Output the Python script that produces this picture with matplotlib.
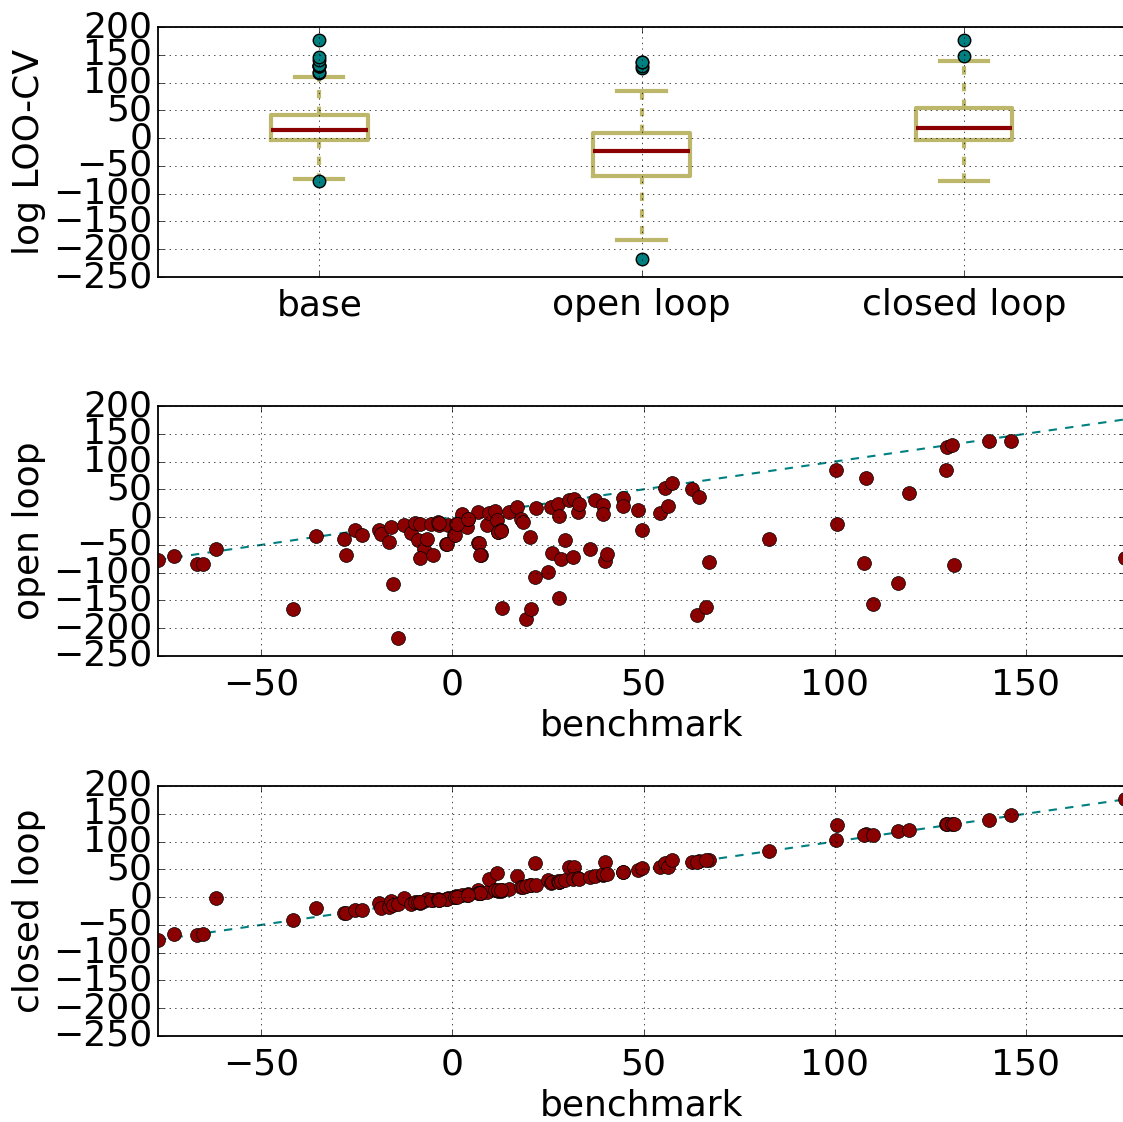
import matplotlib
matplotlib.use('Agg')
import matplotlib.pyplot as plt

# log LOO-CV per case: benchmark vs open loop vs closed loop
benchmark = [-77.0, -72.8, -66.9, -65.2, -61.9, -41.8, -35.7, -28.3, -27.9, -25.6,
             -23.7, -19.3, -18.7, -16.5, -16.1, -15.6, -14.3, -12.6, -10.8, -9.8,
             -8.6, -8.9, -7.3, -6.6, -8.4, -5.1, -5.6, -3.8, -3.4, -1.7,
             -1.2, 0.5, 1.0, 2.4, 3.8, 4.0, 6.6, 6.8, 7.4, 9.0,
             9.5, 11.2, 11.7, 11.9, 12.8, 12.9, 14.9, 16.9, 18.0, 18.4,
             20.2, 19.3, 20.6, 21.7, 21.9, 25.0, 25.9, 26.1, 27.6, 27.8,
             28.0, 28.3, 29.5, 30.4, 31.8, 31.6, 32.8, 33.1, 35.9, 37.4,
             39.4, 39.5, 39.8, 40.4, 44.5, 44.6, 48.6, 49.7, 54.4, 55.5,
             56.4, 57.4, 62.8, 64.6, 67.2, 64.0, 66.4, 82.9, 100.4, 100.5,
             108.1, 107.6, 110.0, 116.6, 119.5, 129.1, 129.3, 130.6, 131.1, 140.3,
             146.2, 176.0,
             # cases sitting under other markers in the dense cluster
             -1.5, 0.6, 7.0, 7.2, 12.0, 12.7, -3.6, 1.1, 4.1]

open_loop = [-78, -70, -84, -84, -58, -165, -34.5, -39, -69, -24,
             -33, -23, -30, -44, -17, -121, -218, -14, -29, -11,
             -12.5, -42, -58, -39, -73, -69, -13, -9.5, -15, -48,
             -15, -32, -12.5, 5.5, -17, -3.5, 8.4, -46, -68, -14,
             7.2, 10.3, -5, -27, -23, -164, 10, 19, -3.5, -8,
             -36, -183, -166, -108, 17, -98, 19, -65, 23, -146,
             2.4, -76, -41, 30, 32, -71, 9.5, 23, -58, 30,
             22, 5, -79, -67, 34.5, 20, 13, -23, 8, 52,
             20, 62, 50, 37, -81.5, -177, -161, -40, 84.5, -12.5,
             70, -83, -157, -118, 43, 84, 127, 129, -87, 137,
             137, -73,
             -48, -32, -46, -68, -27, -25, -10, -13, -4]

closed_loop = [-77, -66, -69, -66, -1, -42, -20, -28, -28, -24,
               -24, -10, -19, -17, -7, -14, -13, -2, -12, -9,
               -10, -8, -7, -4, -9, -5, -6, -4, -5, -4,
               -1, 1, 2, 3, 4, 5, 13, 7, 8, 10,
               32, 12, 43, 11, 11, 13, 15, 38, 18, 18,
               22, 20, 22, 62, 22, 30, 26, 27, 29, 28,
               28, 29, 30, 55, 55, 32, 34, 33, 36, 38,
               40, 41, 64, 41, 45, 45, 49, 53, 54, 62,
               55, 67, 64, 65, 67, 64, 66, 83, 103, 129,
               114, 112, 111, 119, 120, 131, 131, 132, 132, 139.5,
               148, 177,
               -4, 1, 7, 8, 12, 13, -5, 1, 4]

box_labels = ['base', 'open loop', 'closed loop']
yticks = [200, 150, 100, 50, 0, -50, -100, -150, -200, -250]
xticks = [-50, 0, 50, 100, 150]

plt.style.use('classic')
plt.rcParams['font.size'] = 26
plt.rcParams['axes.linewidth'] = 1.3

fig = plt.figure(figsize=(11.23, 11.22), dpi=100, facecolor='white')
W, H = 1123.0, 1122.0
left = 158 / W
width = 1.0 - left + 0.002
height = 250 / H

# boxplot of the three score sets
ax0 = fig.add_axes([left, 1 - 277 / H, width, height])
ax0.boxplot([benchmark, open_loop, closed_loop],
            boxprops=dict(color='darkkhaki', linewidth=3),
            whiskerprops=dict(color='darkkhaki', linewidth=3, linestyle='--'),
            capprops=dict(color='darkkhaki', linewidth=3),
            medianprops=dict(color='darkred', linewidth=3),
            flierprops=dict(marker='o', markerfacecolor='teal',
                            markeredgecolor='black', markersize=9))
ax0.set_xticks([1, 2, 3])
ax0.set_xticklabels(box_labels)
ax0.set_xlim(0.5, 3.5)
ax0.set_ylim(-250, 200)
ax0.set_yticks(yticks)
ax0.set_ylabel('log LOO-CV')
ax0.grid(True)
ax0.tick_params(axis='x', pad=8)

lo, hi = min(benchmark), max(benchmark)
for top, ys, name in [(406, open_loop, 'open loop'), (786, closed_loop, 'closed loop')]:
    ax = fig.add_axes([left, 1 - (top + 250) / H, width, height])
    ax.plot([lo, hi], [lo, hi], '--', color='teal', linewidth=1.5, zorder=1)
    ax.plot(benchmark, ys, 'o', color='darkred', markeredgecolor='black',
            markersize=10, zorder=2)
    ax.set_xlim(lo, hi)
    ax.set_ylim(-250, 200)
    ax.set_yticks(yticks)
    ax.set_xticks(xticks)
    ax.set_xlabel('benchmark')
    ax.set_ylabel(name)
    ax.grid(True)
    ax.tick_params(axis='x', pad=8)

fig.savefig('out.png', dpi=100, facecolor='white')
